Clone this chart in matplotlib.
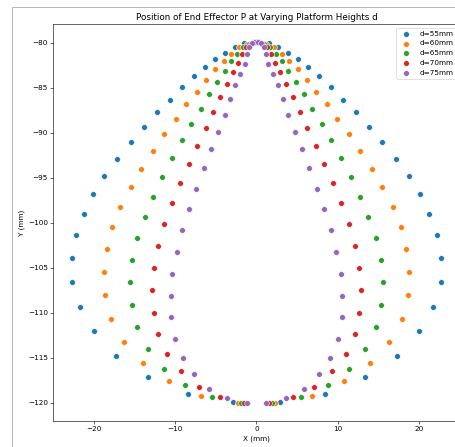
import matplotlib
matplotlib.use("Agg")
import matplotlib.pyplot as plt
from matplotlib.patches import Rectangle

# Platform heights (legend labels)
labels = ["d=55mm", "d=60mm", "d=65mm", "d=70mm", "d=75mm"]
colors = ["#1f77b4", "#ff7f0e", "#2ca02c", "#d62728", "#9467bd"]

# End effector positions (left branch, then right branch)
x55 = [-0.3, -1.5, -2.71, -3.94, -5.09, -6.32, -7.72, -9.15, -10.7, -12.3, -13.9, -15.5, -17.2,
       -18.8, -20.2, -21.3, -22.3, -22.7, -22.7, -21.8, -20.1, -17.3, -13.4, -8.5, -2.9,
       0.3, 1.5, 2.71, 3.94, 5.09, 6.32, 7.72, 9.15, 10.7, 12.3, 13.9, 15.5, 17.2,
       18.8, 20.2, 21.3, 22.3, 22.7, 22.7, 21.8, 20.1, 17.3, 13.4, 8.5, 2.9]
y55 = [-79.95, -80.05, -80.5, -81.1, -81.8, -82.7, -83.7, -84.9, -86.3, -87.7, -89.3, -91.0, -92.9,
       -94.8, -96.8, -99.0, -101.3, -103.9, -106.6, -109.3, -112.0, -114.8, -117.1, -118.96, -119.93,
       -79.95, -80.05, -80.5, -81.1, -81.8, -82.7, -83.7, -84.9, -86.3, -87.7, -89.3, -91.0, -92.9,
       -94.8, -96.8, -99.0, -101.3, -103.9, -106.6, -109.3, -112.0, -114.8, -117.1, -118.96, -119.93]

x60 = [-0.25, -1.2, -2.18, -3.1, -4.02, -5.09, -6.2, -7.35, -8.66, -9.94, -11.4, -12.8, -14.2,
       -15.5, -16.8, -17.8, -18.5, -18.8, -18.7, -17.9, -16.3, -14.0, -10.75, -6.81, -2.34,
       0.25, 1.2, 2.18, 3.1, 4.02, 5.09, 6.2, 7.35, 8.66, 9.94, 11.4, 12.8, 14.2,
       15.5, 16.8, 17.8, 18.5, 18.8, 18.7, 17.9, 16.3, 14.0, 10.75, 6.81, 2.34]
y60 = [-79.95, -80.1, -80.5, -81.2, -82.0, -82.9, -84.1, -85.4, -86.8, -88.4, -90.1, -92.0, -94.0,
       -96.0, -98.2, -100.5, -102.9, -105.4, -108.0, -110.7, -113.2, -115.6, -117.6, -119.2, -120.0,
       -79.95, -80.1, -80.5, -81.2, -82.0, -82.9, -84.1, -85.4, -86.8, -88.4, -90.1, -92.0, -94.0,
       -96.0, -98.2, -100.5, -102.9, -105.4, -108.0, -110.7, -113.2, -115.6, -117.6, -119.2, -120.0]

x65 = [-0.2, -0.95, -1.7, -2.4, -3.12, -3.94, -4.84, -5.83, -6.9, -8.04, -9.24, -10.4, -11.7,
       -12.8, -13.8, -14.7, -15.3, -15.6, -15.4, -14.7, -13.4, -11.4, -8.78, -5.54, -1.93,
       0.2, 0.95, 1.7, 2.4, 3.12, 3.94, 4.84, 5.83, 6.9, 8.04, 9.24, 10.4, 11.7,
       12.8, 13.8, 14.7, 15.3, 15.6, 15.4, 14.7, 13.4, 11.4, 8.78, 5.54, 1.93]
y65 = [-79.95, -80.15, -80.5, -81.2, -82.0, -83.1, -84.3, -85.7, -87.3, -89.0, -90.8, -92.8, -94.9,
       -97.1, -99.3, -101.7, -104.1, -106.6, -109.1, -111.6, -114.0, -116.2, -118.0, -119.3, -120.0,
       -79.95, -80.15, -80.5, -81.2, -82.0, -83.1, -84.3, -85.7, -87.3, -89.0, -90.8, -92.8, -94.9,
       -97.1, -99.3, -101.7, -104.1, -106.6, -109.1, -111.6, -114.0, -116.2, -118.0, -119.3, -120.0]

x70 = [-0.2, -0.7, -1.25, -1.76, -2.25, -2.91, -3.65, -4.47, -5.38, -6.28, -7.3, -8.29, -9.4,
       -10.4, -11.4, -12.1, -12.6, -12.9, -12.7, -12.2, -11.0, -9.3, -7.14, -4.47, -1.56,
       0.2, 0.7, 1.25, 1.76, 2.25, 2.91, 3.65, 4.47, 5.38, 6.28, 7.3, 8.29, 9.4,
       10.4, 11.4, 12.1, 12.6, 12.9, 12.7, 12.2, 11.0, 9.3, 7.14, 4.47, 1.56]
y70 = [-79.95, -80.1, -80.5, -81.2, -82.2, -83.2, -84.6, -86.0, -87.7, -89.4, -91.4, -93.4, -95.6,
       -97.8, -100.1, -102.6, -105.0, -107.4, -110.0, -112.3, -114.6, -116.5, -118.2, -119.3, -120.0,
       -79.95, -80.1, -80.5, -81.2, -82.2, -83.2, -84.6, -86.0, -87.7, -89.4, -91.4, -93.4, -95.6,
       -97.8, -100.1, -102.6, -105.0, -107.4, -110.0, -112.3, -114.6, -116.5, -118.2, -119.3, -120.0]

x75 = [-0.15, -0.55, -0.9, -1.19, -1.48, -2.09, -2.62, -3.24, -3.94, -4.72, -5.63, -6.53, -7.43,
       -8.34, -9.15, -9.85, -10.4, -10.6, -10.5, -10.0, -9.03, -7.67, -5.83, -3.69, -1.19,
       0.15, 0.55, 0.9, 1.19, 1.48, 2.09, 2.62, 3.24, 3.94, 4.72, 5.63, 6.53, 7.43,
       8.34, 9.15, 9.85, 10.4, 10.6, 10.5, 10.0, 9.03, 7.67, 5.83, 3.69, 1.19]
y75 = [-79.9, -80.0, -80.4, -81.2, -82.3, -83.4, -84.7, -86.2, -88.0, -89.9, -91.8, -93.9, -96.2,
       -98.4, -100.8, -103.2, -105.7, -108.1, -110.5, -112.9, -115.0, -116.8, -118.4, -119.4, -120.0,
       -79.9, -80.0, -80.4, -81.2, -82.3, -83.4, -84.7, -86.2, -88.0, -89.9, -91.8, -93.9, -96.2,
       -98.4, -100.8, -103.2, -105.7, -108.1, -110.5, -112.9, -115.0, -116.8, -118.4, -119.4, -120.0]

xs = [x55, x60, x65, x70, x75]
ys = [y55, y60, y65, y70, y75]

x_ticks = [-20, -10, 0, 10, 20]
y_ticks = [-80, -85, -90, -95, -100, -105, -110, -115, -120]

DPI = 52.5
fig = plt.figure(figsize=(456 / DPI, 447 / DPI), dpi=DPI)

# notebook-style output frame (cropped on the right and bottom)
fig.patches.append(Rectangle((12 / 456, -0.1), 1.2, 1.1 - 7 / 447,
                             transform=fig.transFigure, fill=False,
                             edgecolor="#b0b0b0", linewidth=1.2))

ax = fig.add_axes([53 / 456, 1 - 421 / 447, 407 / 456, 397 / 447])

for x, y, c, lab in zip(xs, ys, colors, labels):
    ax.scatter(x, y, s=62, color=c, edgecolors="white", linewidths=0.75, label=lab)

ax.set_xlim(-25.1, 25.1)
ax.set_ylim(-122.0, -77.9)
ax.set_xticks(x_ticks)
ax.set_yticks(y_ticks)

ax.set_title("Position of End Effector P at Varying Platform Heights d")
ax.set_xlabel("X (mm)")
ax.set_ylabel("Y (mm)")
ax.legend(loc="upper right")

fig.savefig("out.png", dpi=DPI)
